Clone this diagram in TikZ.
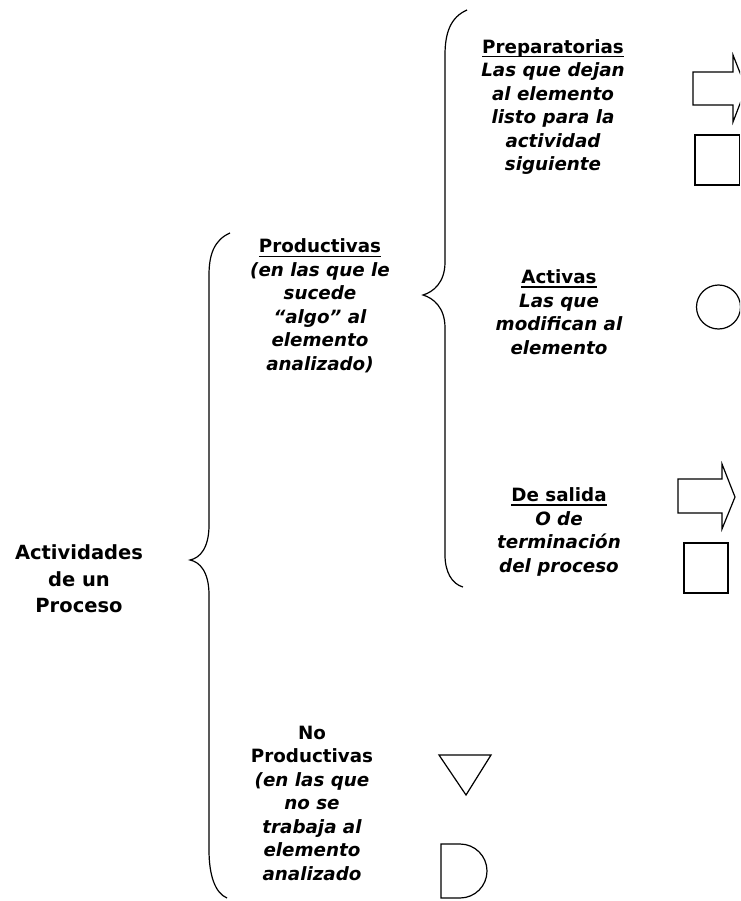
\documentclass[tikz,border=0pt]{standalone}
\usepackage{fontspec}
\setmainfont{DejaVu Sans}
\newcommand\itl[1]{{\itshape #1}}
\newcommand\ulx[1]{\setbox0\hbox{#1}\leavevmode\rlap{\rule[-4.2pt]{\wd0}{1.6pt}}\box0}
\begin{document}
\begin{tikzpicture}[x=1pt,y=-1pt,
  txt/.style={align=center,inner sep=0pt,font=\fontsize{18.3}{23.5}\selectfont\bfseries},
  bigtxt/.style={align=center,inner sep=0pt,font=\fontsize{19.5}{26.5}\selectfont\bfseries},
  shp/.style={draw=black,line width=1.2pt,line join=miter},
  brc/.style={draw=black,line width=1.2pt}]
\useasboundingbox (0,0) rectangle (740,901);
\clip (0,0) rectangle (740,901);
% big brace
\draw[brc] (230,233) .. controls (214,240) and (209,255) .. (209,275) -- (209,525)
  .. controls (209,548) and (200,558) .. (190,560)
  .. controls (200,562) and (209,572) .. (209,595) -- (209,850)
  .. controls (209,875) and (215,893) .. (227,898);
% second brace
\draw[brc] (467,10) .. controls (451,17) and (445,32) .. (445,55) -- (445,262)
  .. controls (445,283) and (433,292) .. (423,295)
  .. controls (433,298) and (445,307) .. (445,328) -- (445,555)
  .. controls (445,572) and (452,584) .. (463,587);
% texts
\node[bigtxt] (act) at (79,579) {Actividades\\de un\\Proceso};
\node[txt] (prod) at (320,306) {\ulx{Productivas}\\\itl{(en las que le}\\\itl{sucede}\\\itl{“algo” al}\\\itl{elemento}\\\itl{analizado)}};
\node[txt] (prep) at (553,107) {\ulx{Preparatorias}\\\itl{Las que dejan}\\\itl{al elemento}\\\itl{listo para la}\\\itl{actividad}\\\itl{siguiente}};
\node[txt] (activ) at (559,312) {\ulx{Activas}\\\itl{Las que}\\\itl{modifican al}\\\itl{elemento}};
\node[txt] (sal) at (559,532) {\ulx{De salida}\\\itl{O de}\\\itl{terminación}\\\itl{del proceso}};
\node[txt] (noprod) at (312,803) {No\\Productivas\\\itl{(en las que}\\\itl{no se}\\\itl{trabaja al}\\\itl{elemento}\\\itl{analizado}};
% symbols
\draw[shp] (693,72) -- (733,72) -- (733,55) -- (746,88) -- (733,122) -- (733,105) -- (693,105) -- cycle;
\draw[shp] (695,135) rectangle (739.4,185);
\draw[shp] (718.5,307) circle[radius=22];
\draw[shp] (678,479) -- (722,479) -- (722,464) -- (735,497) -- (722,529) -- (722,513) -- (678,513) -- cycle;
\draw[shp] (684,543) rectangle (728,593);
\draw[shp] (439,755) -- (491,755) -- (466,795) -- cycle;
\draw[shp] (441,844) -- (460,844) arc[start angle=-90,end angle=90,radius=27] -- (441,898) -- cycle;
\end{tikzpicture}
\end{document}
